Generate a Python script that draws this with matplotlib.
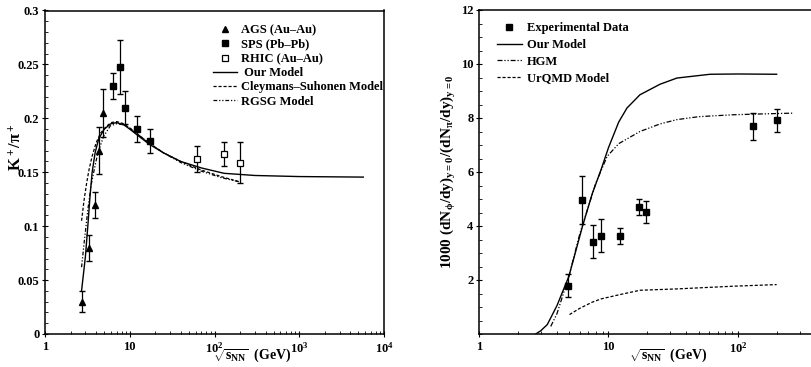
import numpy as np
import matplotlib
matplotlib.use("Agg")
import matplotlib.pyplot as plt
from matplotlib.ticker import FixedLocator, MultipleLocator, LogLocator, NullFormatter

plt.rcParams['font.family'] = ['Liberation Serif', 'DejaVu Serif']
plt.rcParams['font.weight'] = 'bold'
plt.rcParams['mathtext.fontset'] = 'custom'
plt.rcParams['mathtext.rm'] = 'Liberation Serif:bold'
plt.rcParams['mathtext.it'] = 'Liberation Serif:bold'
plt.rcParams['mathtext.bf'] = 'Liberation Serif:bold'

# --- left panel: K+/pi+ ---
ags_x = [2.7, 3.32, 3.84, 4.3, 4.88]
ags_y = [0.030, 0.080, 0.120, 0.170, 0.205]
ags_e = [0.010, 0.012, 0.012, 0.022, 0.022]

sps_x = [6.27, 7.62, 8.76, 12.3, 17.3]
sps_y = [0.230, 0.248, 0.210, 0.190, 0.179]
sps_e = [0.012, 0.025, 0.015, 0.012, 0.011]

rhic_x = [62.4, 130, 200]
rhic_y = [0.162, 0.167, 0.159]
rhic_e = [0.012, 0.011, 0.019]

our_x = [2.7, 3.0, 3.2, 3.4, 3.6, 3.9, 4.3, 5.0, 6.0, 7.0, 8.5, 10, 13, 17, 25, 40, 70, 130, 300, 1000, 5700]
our_y = [0.040, 0.072, 0.100, 0.128, 0.150, 0.168, 0.181, 0.190, 0.195, 0.196, 0.194, 0.190, 0.183, 0.176, 0.168, 0.160, 0.154, 0.149, 0.147, 0.146, 0.1455]

cs_x = [2.7, 2.9, 3.1, 3.3, 3.6, 4.0, 4.5, 5.2, 6.0, 7.0, 8.5, 10, 13, 17, 25, 40, 70, 120, 200]
cs_y = [0.105, 0.125, 0.140, 0.152, 0.165, 0.177, 0.186, 0.192, 0.196, 0.197, 0.195, 0.191, 0.184, 0.177, 0.168, 0.160, 0.152, 0.146, 0.141]

rgsg_x = [2.7, 2.9, 3.2, 3.5, 3.8, 4.2, 4.9, 5.9, 7.0, 8.5, 10, 13, 17, 25, 40, 70, 120, 200]
rgsg_y = [0.062, 0.085, 0.115, 0.138, 0.152, 0.168, 0.183, 0.193, 0.195, 0.194, 0.191, 0.184, 0.177, 0.168, 0.159, 0.151, 0.145, 0.141]

y1_ticks = [0, 0.05, 0.1, 0.15, 0.2, 0.25, 0.3]
y1_labels = ['0', '0.05', '0.1', '0.15', '0.2', '0.25', '0.3']

# --- right panel: phi/pi ---
exp_x = [4.88, 6.27, 7.62, 8.76, 12.3, 17.3, 19.6, 130, 200]
exp_y = [1.77, 4.95, 3.41, 3.64, 3.62, 4.69, 4.51, 7.69, 7.93]
exp_lo = [0.40, 0.87, 0.58, 0.59, 0.29, 0.29, 0.39, 0.49, 0.43]
exp_hi = [0.46, 0.91, 0.61, 0.63, 0.31, 0.31, 0.42, 0.51, 0.40]

our2_x = [2.74, 3.0, 3.37, 4.0, 4.95, 6.3, 7.5, 8.77, 10, 12, 13.9, 17.5, 25, 33.8, 61, 100, 199]
our2_y = [0.0, 0.12, 0.35, 1.05, 2.14, 3.99, 5.20, 6.09, 6.90, 7.85, 8.37, 8.86, 9.25, 9.48, 9.62, 9.63, 9.62]

hgm_x = [3.58, 4.0, 4.95, 6.0, 6.86, 8.0, 9.77, 12, 17.5, 25, 33.8, 50, 92, 150, 266]
hgm_y = [0.28, 0.75, 2.14, 3.70, 4.59, 5.60, 6.58, 7.05, 7.50, 7.78, 7.94, 8.05, 8.12, 8.15, 8.18]

urq_x = [5.0, 6.0, 7.5, 8.77, 12, 17.5, 33.8, 92, 199]
urq_y = [0.72, 0.95, 1.18, 1.30, 1.45, 1.62, 1.67, 1.77, 1.83]

fig = plt.figure(figsize=(8.11, 3.67), dpi=100)
ax1 = fig.add_axes([45 / 811, 1 - 334 / 367, 339 / 811, 323.5 / 367])
ax2 = fig.add_axes([479 / 811, 1 - 334 / 367, 334 / 811, 324 / 367])

lw = 1.0
ax1.errorbar(ags_x, ags_y, yerr=ags_e, fmt='none', ecolor='black', elinewidth=0.9, capsize=2)
ax1.errorbar(sps_x, sps_y, yerr=sps_e, fmt='none', ecolor='black', elinewidth=0.9, capsize=2)
ax1.errorbar(rhic_x, rhic_y, yerr=rhic_e, fmt='none', ecolor='black', elinewidth=0.9, capsize=2)
ax1.plot(ags_x, ags_y, '^', color='black', ms=4, ls='none', label='AGS (Au–Au)')
ax1.plot(sps_x, sps_y, 's', color='black', ms=4, ls='none', label='SPS (Pb–Pb)')
ax1.plot(rhic_x, rhic_y, 's', mfc='white', mec='black', mew=0.9, ms=5, ls='none', label='RHIC (Au–Au)')
ax1.plot(our_x, our_y, '-', color='black', lw=lw, label=' Our Model')
ax1.plot(cs_x, cs_y, color='black', lw=0.9, ls=(0, (2.5, 1.5)), label='Cleymans–Suhonen Model')
ax1.plot(rgsg_x, rgsg_y, color='black', lw=0.9, ls=(0, (3, 1.5, 1, 1.5, 1, 1.5)), label='RGSG Model')

ax1.set_xscale('log')
ax1.set_xlim(1, 1e4)
ax1.set_ylim(0, 0.3)
ax1.xaxis.set_major_locator(FixedLocator([1, 10, 100, 1000, 10000]))
ax1.set_xticklabels(['1', '10', '$10^2$', '$10^3$', '$10^4$'])
ax1.xaxis.set_minor_locator(LogLocator(base=10, subs=np.arange(2, 10)))
ax1.xaxis.set_minor_formatter(NullFormatter())
ax1.yaxis.set_major_locator(FixedLocator(y1_ticks))
ax1.set_yticklabels(y1_labels)
ax1.yaxis.set_minor_locator(MultipleLocator(0.01))
ax1.set_ylabel('K$^+$/π$^+$', fontsize=12, fontweight='bold')
ax1.yaxis.set_label_coords(-0.06, 0.577)
ax1.set_xlabel(r'$\sqrt{\mathrm{s_{NN}}}$  (GeV)', fontsize=10, fontweight='bold')
ax1.xaxis.set_label_coords(0.61, -0.04)
ax1.legend(loc='upper right', bbox_to_anchor=(1.02, 0.98), frameon=False, fontsize=9,
           handlelength=1.9, handletextpad=0.35, labelspacing=0.18, borderaxespad=0.2)

ax2.errorbar(exp_x, exp_y, yerr=[exp_lo, exp_hi], fmt='none', ecolor='black', elinewidth=0.9, capsize=2)
ax2.plot(exp_x, exp_y, 's', color='black', ms=4, ls='none', label='Experimental Data')
ax2.plot(our2_x, our2_y, '-', color='black', lw=lw, label='Our Model')
ax2.plot(hgm_x, hgm_y, color='black', lw=0.9, ls=(0, (4, 1.5, 1, 1.5, 1, 1.5)), label='HGM')
ax2.plot(urq_x, urq_y, color='black', lw=0.9, ls=(0, (2.5, 1.5)), label='UrQMD Model')

ax2.set_xscale('log')
ax2.set_xlim(1, 380)
ax2.set_ylim(0, 12)
ax2.xaxis.set_major_locator(FixedLocator([1, 10, 100]))
ax2.set_xticklabels(['1', '10', '$10^2$'])
ax2.xaxis.set_minor_locator(LogLocator(base=10, subs=np.arange(2, 10)))
ax2.xaxis.set_minor_formatter(NullFormatter())
ax2.yaxis.set_major_locator(FixedLocator([2, 4, 6, 8, 10, 12]))
ax2.yaxis.set_minor_locator(MultipleLocator(0.5))
ax2.set_ylabel(r'1000 (dN$_\phi$/dy)$_{y=0}$/(dN$_\pi$/dy)$_{y=0}$', fontsize=11, fontweight='bold')
ax2.yaxis.set_label_coords(-0.063, 0.5)
ax2.set_xlabel(r'$\sqrt{\mathrm{s_{NN}}}$  (GeV)', fontsize=10, fontweight='bold')
ax2.xaxis.set_label_coords(0.565, -0.04)
ax2.legend(loc='upper left', bbox_to_anchor=(0.03, 0.985), frameon=False, fontsize=9,
           handlelength=2.0, handletextpad=0.45, labelspacing=0.38, borderaxespad=0.2)

for ax in (ax1, ax2):
    ax.tick_params(which='major', direction='inout', length=4, width=0.8, labelsize=9, pad=2)
    ax.tick_params(which='minor', direction='in', length=2, width=0.6)
    for lab in ax.get_xticklabels() + ax.get_yticklabels():
        lab.set_fontweight('bold')
    for sp in ax.spines.values():
        sp.set_linewidth(1.1)

ax1.tick_params(axis='x', pad=3)
ax2.tick_params(axis='x', pad=3)

fig.savefig('out.png', dpi=100)
